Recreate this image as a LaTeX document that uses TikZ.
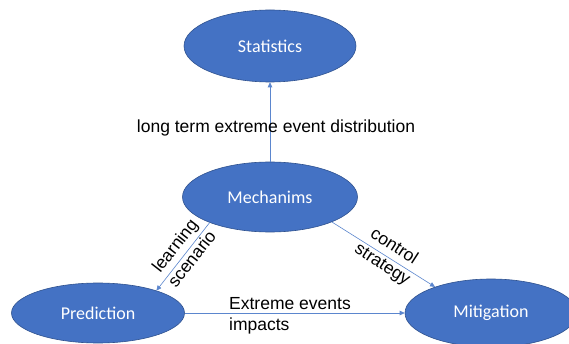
\documentclass[tikz,border=0pt]{standalone}
\usepackage{fontspec}
\setmainfont{Liberation Sans}
\newfontfamily\calib{Carlito}
\usetikzlibrary{shapes.geometric,arrows.meta}
\definecolor{fillblue}{HTML}{4472C4}
\definecolor{edgeblue}{HTML}{2F528F}
\definecolor{lineblue}{HTML}{5B86CE}
\begin{document}
\begin{tikzpicture}[x=1pt,y=-1pt,
  blob/.style={ellipse,draw=edgeblue,line width=0.6pt,fill=fillblue,inner sep=0pt,
    text=white,font=\calib\fontsize{18}{21}\selectfont},
  conn/.style={draw=lineblue,line width=0.6pt,-{Triangle[length=5pt,width=4.5pt]}},
  lbl/.style={font=\fontsize{17.5}{21.5}\selectfont,text=black,inner sep=0pt}]
\fill[white] (0,0) rectangle (569,344);
\useasboundingbox (0,0) rectangle (569,344);
\node[blob,minimum width=172pt,minimum height=72pt] (stat) at (270,46) {Statistics};
\node[blob,minimum width=175pt,minimum height=70pt] (mech) at (270,197) {Mechanims};
\node[blob,minimum width=173pt,minimum height=60pt] (pred) at (98,313) {Prediction};
\node[blob,minimum width=172pt,minimum height=68pt] (mit) at (491,313) {Mitigation};
\draw[conn] (mech.north) -- (stat.south);
\draw[conn] (mech.203) -- (pred.21);
\draw[conn] (mech.338) -- (mit.155);
\draw[conn] (pred.east) -- (mit.west);
\node[lbl] (ltd) at (276,128) {long term extreme event distribution};
\node[lbl,align=center,rotate=52] (ls) at (183,252) {learning\\scenario};
\node[lbl,align=center,rotate=-33] (cs) at (388,256) {control\\strategy};
\node[lbl,align=left,anchor=west] (eei) at (229,316) {Extreme events\\impacts};
\end{tikzpicture}
\end{document}
